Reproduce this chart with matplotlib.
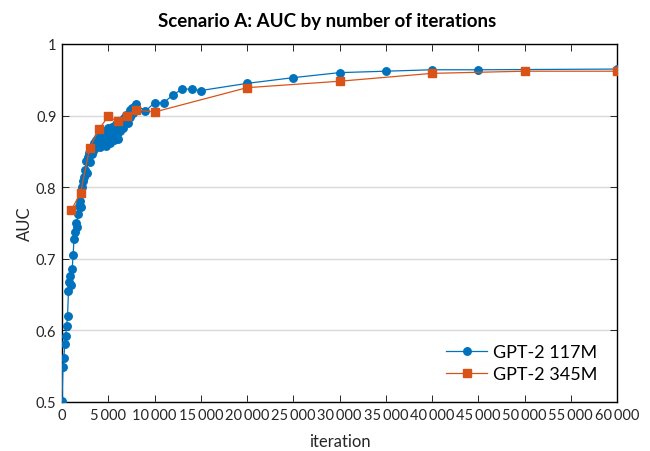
import matplotlib
matplotlib.use("Agg")
import matplotlib.pyplot as plt
from matplotlib.ticker import FuncFormatter, MultipleLocator

plt.rcParams['font.family'] = ['Lato', 'DejaVu Sans']

# ---- data ----
iter_117 = list(range(0, 8001, 100)) + [9000, 10000, 11000, 12000, 13000, 14000, 15000,
                                       20000, 25000, 30000, 35000, 40000, 45000, 60000]
auc_117 = [
    0.502, 0.549, 0.561, 0.581, 0.592, 0.606, 0.620, 0.655, 0.668, 0.676,
    0.664, 0.686, 0.705, 0.728, 0.738, 0.750, 0.745, 0.762, 0.774, 0.781,
    0.772, 0.795, 0.800, 0.808, 0.814, 0.824, 0.836, 0.820, 0.842, 0.848,
    0.835, 0.853, 0.846, 0.858, 0.851, 0.862, 0.855, 0.866, 0.859, 0.870,
    0.862, 0.856, 0.868, 0.874, 0.860, 0.871, 0.878, 0.865, 0.858, 0.876,
    0.882, 0.869, 0.862, 0.875, 0.884, 0.872, 0.866, 0.879, 0.888, 0.874,
    0.868, 0.881, 0.890, 0.878, 0.886, 0.894, 0.883, 0.897, 0.889, 0.901,
    0.893, 0.889, 0.902, 0.908, 0.898, 0.905, 0.911, 0.903, 0.909, 0.914,
    0.916,
    0.906, 0.918, 0.918, 0.929, 0.937, 0.937, 0.935,
    0.945, 0.953, 0.960, 0.962, 0.964, 0.964, 0.965,
]
iter_345 = [1000, 2000, 3000, 4000, 5000, 6000, 7000, 8000, 10000,
            20000, 30000, 40000, 50000, 60000]
auc_345 = [0.768, 0.792, 0.855, 0.881, 0.899, 0.892, 0.899, 0.908, 0.905,
           0.939, 0.948, 0.959, 0.962, 0.962]
labels = ["GPT-2 117M", "GPT-2 345M"]

blue = "#0072BD"
orange = "#D95319"

fig = plt.figure(figsize=(6.5, 4.52), dpi=100)
ax = fig.add_axes([62/650, 1-403/452, (617-62)/650, (403-45)/452])

ax.plot(iter_117, auc_117, '-o', color=blue, lw=0.9, ms=5.4, mec=blue, mfc=blue,
        label=labels[0], zorder=3)
ax.plot(iter_345, auc_345, '-s', color=orange, lw=0.9, ms=5.6, mec=orange, mfc=orange,
        label=labels[1], zorder=4)

ax.set_xlim(0, 60000)
ax.set_ylim(0.5, 1.0)
ax.xaxis.set_major_locator(MultipleLocator(5000))
ax.yaxis.set_major_locator(MultipleLocator(0.1))
ax.xaxis.set_major_formatter(FuncFormatter(
    lambda v, p: f"{int(round(v)):,}".replace(",", "\u2009")))
ax.yaxis.set_major_formatter(FuncFormatter(
    lambda v, p: "1" if abs(v-1) < 1e-9 else f"{v:.1f}"))
ax.tick_params(direction='in', top=True, right=True, length=5, width=0.7,
               labelsize=10.5, colors='#262626', pad=4)
ax.grid(axis='y', color='#d9d9d9', lw=1.0, zorder=0)
for s in ax.spines.values():
    s.set_linewidth(1.0)
    s.set_color('#000000')

ax.set_title("Scenario A: AUC by number of iterations", fontsize=13.5,
             fontweight='bold', pad=13, x=0.478)
ax.set_xlabel("iteration", fontsize=12, color='#262626', labelpad=8)
ax.set_ylabel("AUC", fontsize=12, color='#262626', labelpad=2)

leg = ax.legend(loc='lower right', frameon=False, fontsize=13,
                handlelength=2.3, handletextpad=0.3, labelspacing=0.35,
                borderaxespad=0.7)

fig.savefig("out.png", dpi=100)
